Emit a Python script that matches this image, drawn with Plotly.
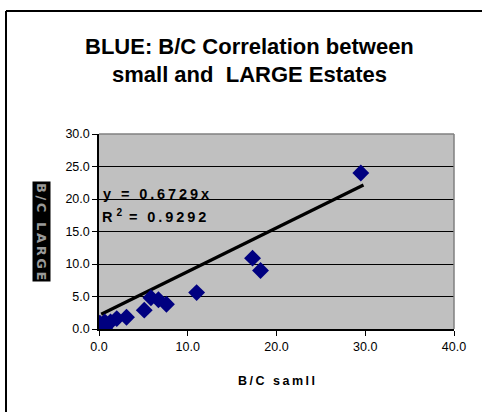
import plotly.graph_objects as go

# B/C ratios: small estates (x) against LARGE estates (y)
bc_small = [29.5, 17.3, 18.2, 11.0, 5.1, 5.85, 6.7, 7.6, 3.1, 2.0, 1.3, 0.65, 0.5, 0.3, 0.1, 0.65]
bc_large = [24.0, 10.9, 9.0, 5.6, 2.9, 4.8, 4.5, 3.8, 1.8, 1.6, 1.1, 1.1, 0.8, 0.35, 0.9, 0.15]

slope = 0.6729
intercept = 2.1
r_squared = 0.9292

x_ticks = [0, 10, 20, 30, 40]
y_ticks = [0, 5, 10, 15, 20, 25, 30]

FONT = "Liberation Sans, Arial, sans-serif"
THIN = "\u2009"  # thin space used for letter tracking


def tracked(s, gap=THIN):
    return gap.join(s)


x_line = [min(bc_small) + 0.15, max(bc_small) + 0.3]
y_line = [slope * v + intercept for v in x_line]

fig = go.Figure()
fig.add_trace(go.Scatter(
    x=x_line, y=y_line, mode="lines",
    line=dict(color="black", width=3.2), hoverinfo="skip", showlegend=False,
))
fig.add_trace(go.Scatter(
    x=bc_small, y=bc_large, mode="markers",
    marker=dict(symbol="diamond", size=13, color="#000080"),
    showlegend=False,
))

L, R, T, B = 99, 28, 134, 83
W, H = 482, 412
pw, ph = W - L - R, H - T - B


def px_x(p):
    return (p - L) / pw


def px_y(p):
    return 1 - (p - T) / ph


fig.update_layout(
    width=W, height=H,
    margin=dict(l=L, r=R, t=T, b=B),
    paper_bgcolor="white",
    plot_bgcolor="#C0C0C0",
    font=dict(family=FONT, color="black", size=12.5),
    xaxis=dict(
        range=[0, 40], tickvals=x_ticks, ticktext=[f"{v:.1f}" for v in x_ticks],
        showgrid=False, zeroline=False, showline=True, linecolor="black", linewidth=1.5,
        ticks="outside", ticklen=5, tickcolor="black",
        title=dict(text="<b>" + tracked("B/C samll") + "</b>", font=dict(size=12.5), standoff=23),
    ),
    yaxis=dict(
        range=[0, 30], tickvals=y_ticks, ticktext=[f"{v:.1f}" for v in y_ticks],
        showgrid=True, gridcolor="black", gridwidth=1.2, zeroline=False,
        showline=True, linecolor="black", linewidth=1.5,
        ticks="outside", ticklen=5, tickcolor="black",
    ),
    shapes=[
        # grey frame on the top and right of the plot area
        dict(type="line", xref="paper", yref="paper", x0=0, x1=1, y0=1, y1=1,
             line=dict(color="#808080", width=1.5)),
        dict(type="line", xref="paper", yref="paper", x0=1, x1=1, y0=0, y1=1,
             line=dict(color="#808080", width=1.5)),
        # chart border (left and top edges)
        dict(type="line", xref="paper", yref="paper", x0=px_x(6), x1=px_x(6),
             y0=px_y(11), y1=px_y(412), line=dict(color="black", width=2)),
        dict(type="line", xref="paper", yref="paper", x0=px_x(6), x1=px_x(482),
             y0=px_y(11), y1=px_y(11), line=dict(color="black", width=2)),
    ],
    annotations=[
        dict(text="<b>BLUE: B/C Correlation between</b>", xref="paper", yref="paper",
             x=px_x(249), y=px_y(46), showarrow=False, font=dict(size=22),
             xanchor="center", yanchor="middle"),
        dict(text="<b>small and  LARGE Estates</b>", xref="paper", yref="paper",
             x=px_x(249), y=px_y(74), showarrow=False, font=dict(size=22),
             xanchor="center", yanchor="middle"),
        dict(text="<b>" + tracked(f"y = {slope}x") + "</b>", xref="paper", yref="paper",
             x=px_x(101), y=px_y(194), showarrow=False, font=dict(size=14.5),
             xanchor="left", yanchor="middle"),
        dict(text="<b>R <sup>2</sup>" + THIN + " " + tracked(f"= {r_squared}") + "</b>",
             xref="paper", yref="paper",
             x=px_x(100), y=px_y(216), showarrow=False, font=dict(size=14.5),
             xanchor="left", yanchor="middle"),
        dict(text="<b>" + tracked("B/C LARGE") + "</b>", xref="paper", yref="paper",
             x=px_x(42), y=px_y(231), showarrow=False, textangle=90,
             font=dict(size=13, family="DejaVu Sans, sans-serif", color="#9a9a9a"),
             bgcolor="black", borderpad=1,
             xanchor="center", yanchor="middle"),
    ],
)

fig.write_html("out.html")
